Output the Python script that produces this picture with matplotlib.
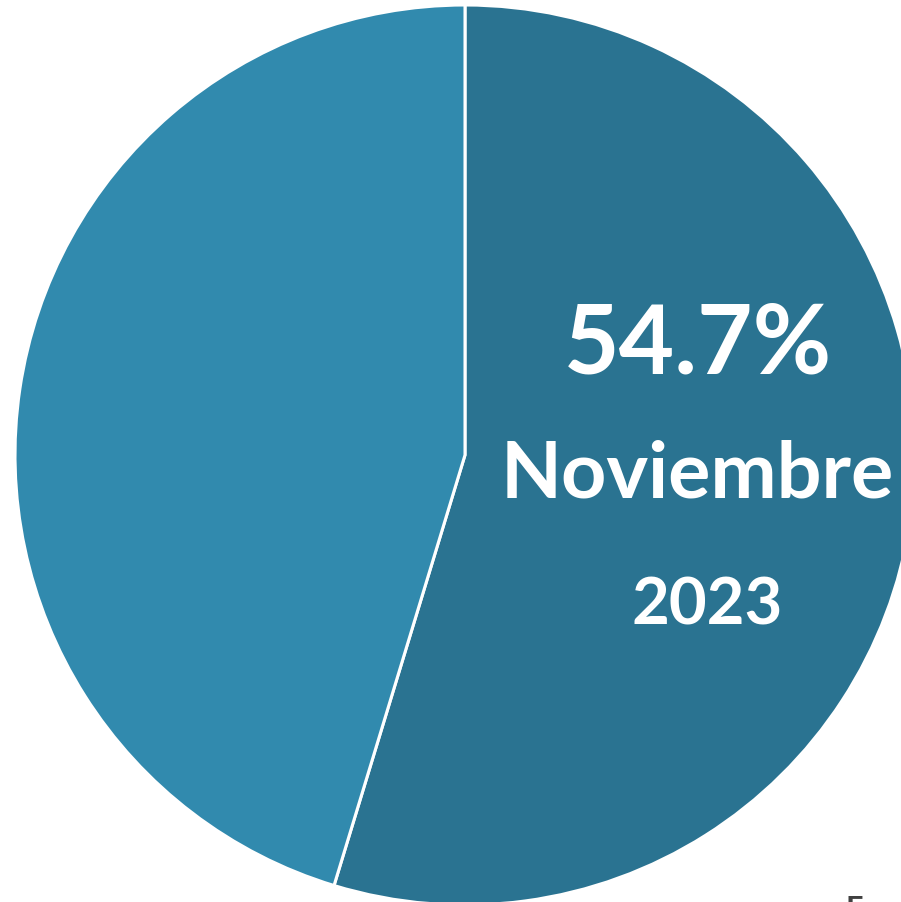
import matplotlib
matplotlib.use('Agg')
import matplotlib.pyplot as plt

labels = ['Noviembre 2023', 'Resto']
shares = [54.7, 45.3]
colors = ['#2A7391', '#318AAE']

plt.rcParams['font.family'] = ['Lato', 'DejaVu Sans']

fig = plt.figure(figsize=(9.01, 9.02), dpi=100)
# pie is larger than the canvas on the right and bottom
ax = fig.add_axes([15 / 901, -3 / 902, 900 / 901, 900 / 902])
ax.pie(shares, colors=colors, startangle=90, counterclock=False,
       wedgeprops=dict(edgecolor='white', linewidth=2.2), radius=1)
ax.set_xlim(-1, 1)
ax.set_ylim(-1, 1)
ax.axis('off')

fig.text(698 / 901, 1 - 346 / 902, '%.1f%%' % shares[0], color='white', fontsize=69,
         fontweight='bold', ha='center', va='center')
fig.text(697 / 901, 1 - 476 / 902, 'Noviembre', color='white', fontsize=57,
         fontweight='bold', ha='center', va='center')
fig.text(707 / 901, 1 - 606 / 902, '2023', color='white', fontsize=47,
         fontweight='bold', ha='center', va='center')
fig.text(846 / 901, 1 - 895 / 902, 'Fuente', color='#404040', fontsize=22,
         fontweight='bold', ha='left', va='top')

fig.savefig('out.png', dpi=100)
